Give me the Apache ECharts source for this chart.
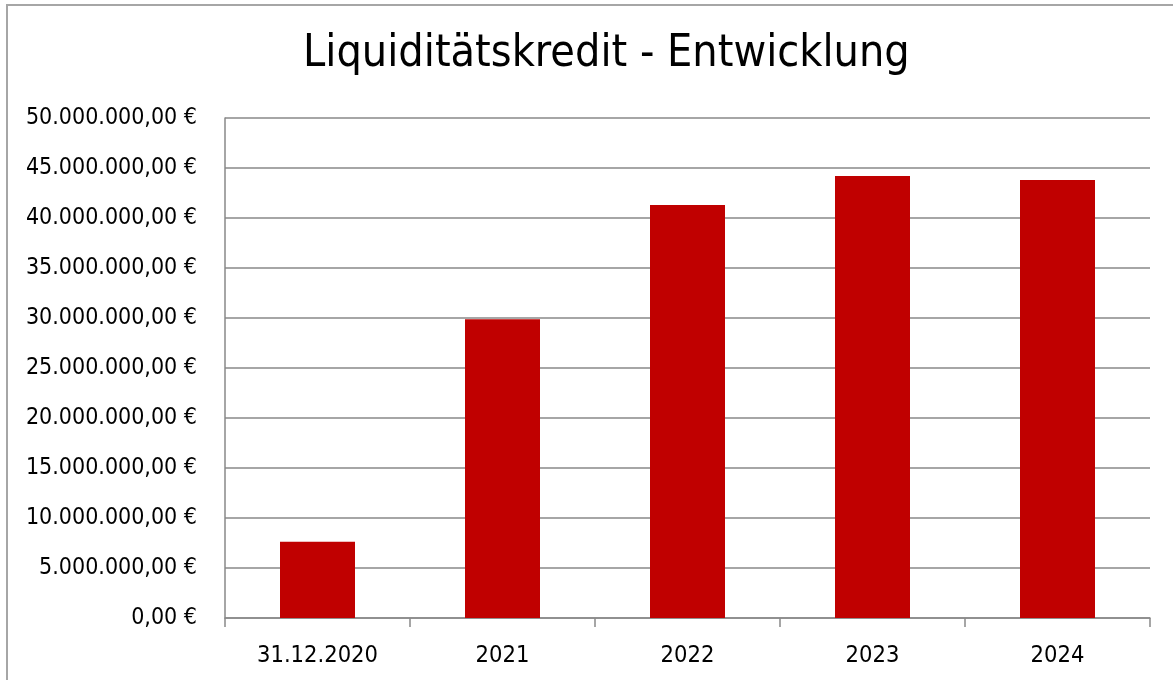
<!DOCTYPE html>
<html>
<head>
<meta charset="utf-8">
<script src="https://cdn.jsdelivr.net/npm/echarts@6/dist/echarts.min.js"></script>
<style>
  html, body { margin: 0; padding: 0; background: #fff; }
  #main { width: 1173px; height: 680px; }
</style>
</head>
<body>
<div id="main"></div>
<script>
const categories = ['31.12.2020', '2021', '2022', '2023', '2024'];
const kreditValues = [7630000, 29870000, 41300000, 44200000, 43800000];
const yTicks = { min: 0, max: 50000000, interval: 5000000 };

const FONT = "'DejaVu Sans Condensed', 'Liberation Sans', sans-serif";

function euro(v) {
  let s = Math.round(v).toString().replace(/\B(?=(\d{3})+(?!\d))/g, '.');
  return s + ',00 €';
}

let chart = echarts.init(document.getElementById('main'));

let option = {
  animation: false,
  title: {
    text: 'Liquiditätskredit - Entwicklung',
    left: 298,
    top: 27,
    textStyle: {
      fontFamily: FONT,
      fontWeight: 'normal',
      fontSize: 44.5,
      color: '#000'
    }
  },
  graphic: [{
    type: 'rect',
    shape: { x: 7, y: 5, width: 1200, height: 700 },
    style: { fill: 'none', stroke: '#a6a6a6', lineWidth: 2 },
    silent: true
  }],
  grid: { left: 225, right: 23, top: 118, bottom: 62 },
  xAxis: {
    type: 'category',
    data: categories,
    axisLine: { lineStyle: { color: '#898989', width: 1.5 } },
    axisTick: { show: true, length: 9, lineStyle: { color: '#898989', width: 1.5 } },
    axisLabel: {
      margin: 26,
      fontFamily: FONT,
      fontSize: 23.5,
      color: '#000'
    }
  },
  yAxis: {
    type: 'value',
    min: yTicks.min,
    max: yTicks.max,
    interval: yTicks.interval,
    axisLine: { show: true, lineStyle: { color: '#898989', width: 1.5 } },
    axisTick: { show: false },
    splitLine: { lineStyle: { color: '#898989', width: 1.5 } },
    axisLabel: {
      margin: 28,
      formatter: euro,
      fontFamily: FONT,
      fontSize: 23,
      color: '#000'
    }
  },
  series: [{
    name: 'Liquiditätskredit',
    type: 'bar',
    data: kreditValues,
    barWidth: 75,
    itemStyle: { color: '#c00000' }
  }]
};

chart.setOption(option);
</script>
</body>
</html>
